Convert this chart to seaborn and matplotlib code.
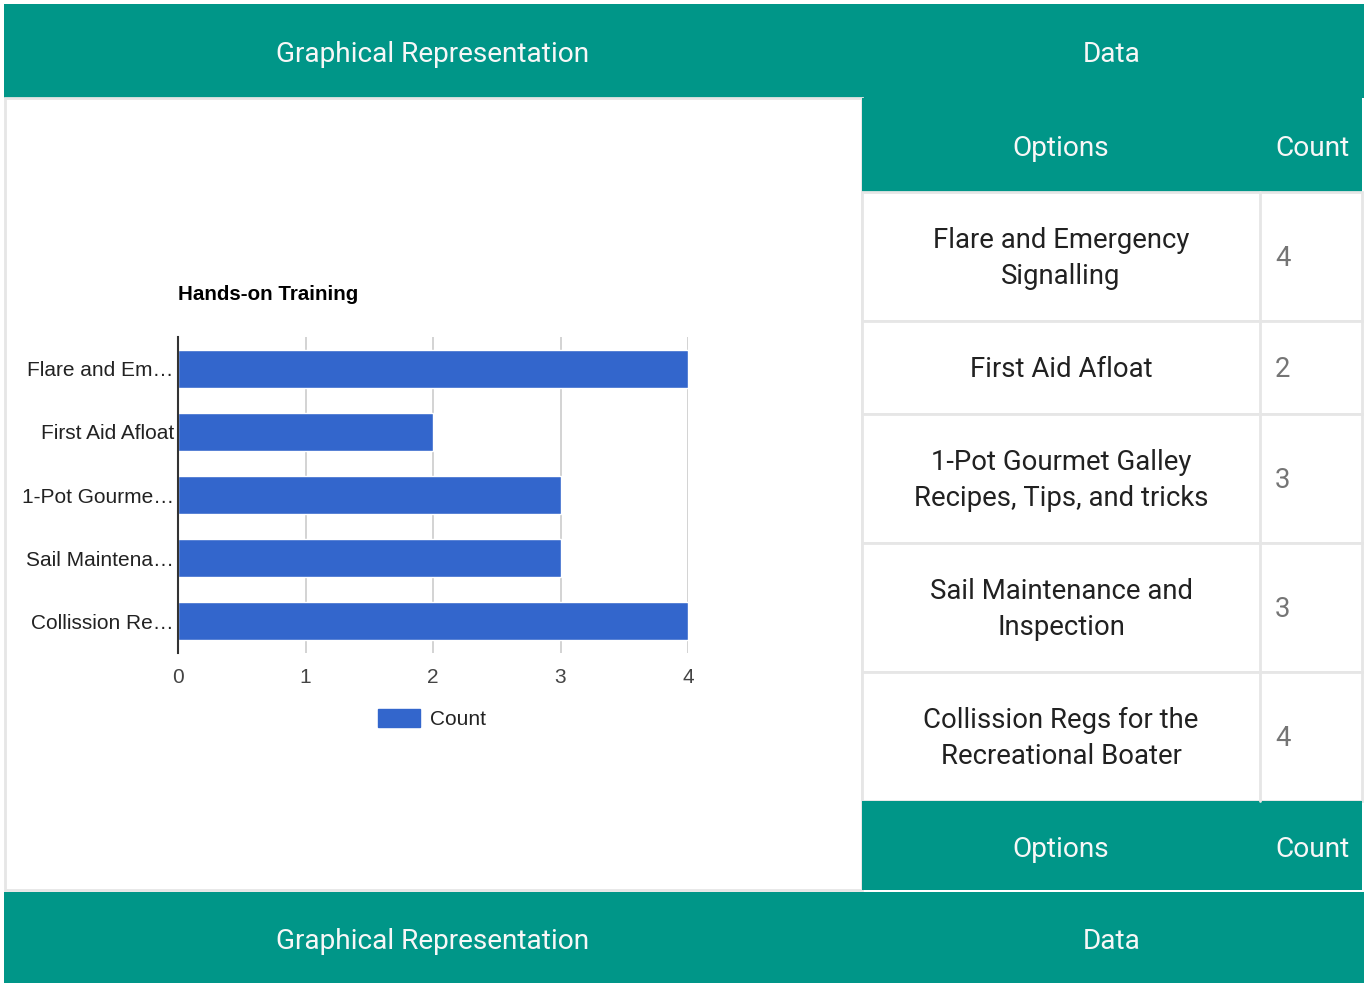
import matplotlib
matplotlib.use("Agg")
import matplotlib.pyplot as plt
import pandas as pd
import seaborn as sns
from matplotlib.patches import Rectangle, Patch

# data
chart_title = "Hands-on Training"
options = ["Flare and Emergency Signalling", "First Aid Afloat",
           "1-Pot Gourmet Galley Recipes, Tips, and tricks",
           "Sail Maintenance and Inspection",
           "Collission Regs for the Recreational Boater"]
counts = [4, 2, 3, 3, 4]
tick_labels = ["Flare and Em…", "First Aid Afloat", "1-Pot Gourme…",
               "Sail Maintena…", "Collission Re…"]
table_lines = [["Flare and Emergency", "Signalling"], ["First Aid Afloat"],
               ["1-Pot Gourmet Galley", "Recipes, Tips, and tricks"],
               ["Sail Maintenance and", "Inspection"],
               ["Collission Regs for the", "Recreational Boater"]]
x_ticks = [0, 1, 2, 3, 4]
panel_titles = ["Graphical Representation", "Data"]
col_titles = ["Options", "Count"]

TEAL = "#009688"
BLUE = "#3366cc"
LINE = "#e6e6e6"
W, H = 1369, 983

sns.set_theme(style="white")
plt.rcParams['font.family'] = ['Roboto', 'DejaVu Sans']

fig = plt.figure(figsize=(W / 100, H / 100), dpi=100)

# page background drawn in pixel coordinates
bg = fig.add_axes([0, 0, 1, 1])
bg.set_xlim(0, W)
bg.set_ylim(H, 0)
bg.axis("off")

head_kw = dict(color="#f7f7f7", fontsize=20.2, va="center", family=["Roboto", "DejaVu Sans"])
dy = 4  # text sits a little low in its cell

# top and bottom bars
for y0, y1 in [(4, 98), (892, 983)]:
    bg.add_patch(Rectangle((4, y0), 1360, y1 - y0, color=TEAL, lw=0))
    bg.text(433, (y0 + y1) / 2 + dy, panel_titles[0], ha="center", **head_kw)
    bg.text(1112, (y0 + y1) / 2 + dy, panel_titles[1], ha="center", **head_kw)

# left panel frame
bg.add_patch(Rectangle((4.5, 98), 857.5, 792, facecolor="white", edgecolor=LINE, lw=2))

# table
tx0, tsplit, tx1 = 862, 1260, 1362
y = 98
bg.add_patch(Rectangle((tx0, y), tx1 - tx0, 94, color=TEAL, lw=0))
bg.text((tx0 + tsplit) / 2, y + 47 + dy, col_titles[0], ha="center", **head_kw)
bg.text(1275, y + 47 + dy, col_titles[1], ha="left", **head_kw)
y += 94
for lines, c in zip(table_lines, counts):
    h = 57 + 36 * len(lines)
    bg.add_patch(Rectangle((tx0, y), tx1 - tx0, h, facecolor="white", edgecolor=LINE, lw=2))
    bg.plot([tsplit, tsplit], [y, y + h], color=LINE, lw=2)
    bg.text((tx0 + tsplit) / 2, y + h / 2 + 2, "\n".join(lines), ha="center", va="center",
            fontsize=19.8, color="#212121", linespacing=1.4, family=["Roboto", "DejaVu Sans"])
    bg.text(1275, y + h / 2 + 2, str(c), ha="left", va="center", fontsize=19.8,
            color="#757575", family=["Roboto", "DejaVu Sans"])
    y += h
bg.add_patch(Rectangle((tx0, y), tx1 - tx0, 890 - y, color=TEAL, lw=0))
bg.text((tx0 + tsplit) / 2, (y + 890) / 2 + dy, col_titles[0], ha="center", **head_kw)
bg.text(1275, (y + 890) / 2 + dy, col_titles[1], ha="left", **head_kw)

# bar chart
ax = fig.add_axes([178 / W, 1 - 653 / H, 510 / W, 316 / H])
df = pd.DataFrame({"option": tick_labels, "Count": counts})
sns.barplot(data=df, y="option", x="Count", orient="h", color=BLUE, saturation=1,
            width=0.6, ax=ax, zorder=3)
ax.set_xlim(0, 4)
ax.set_ylim(4.5, -0.5)
ax.set_xticks(x_ticks)
ax.set_xlabel("")
ax.set_ylabel("")
ax.set_facecolor("none")
for s in ["top", "right", "bottom"]:
    ax.spines[s].set_visible(False)
ax.spines["left"].set_color("#333333")
ax.spines["left"].set_linewidth(1.5)
ax.spines["left"].set_zorder(5)
ax.grid(axis="x", color="#cccccc", lw=1.2, zorder=0)
ax.tick_params(axis="y", length=0, pad=3, labelsize=15, labelcolor="#222222")
ax.tick_params(axis="x", length=0, pad=11, labelsize=15, labelcolor="#444444")
for lab in ax.get_xticklabels() + ax.get_yticklabels():
    lab.set_family(["Liberation Sans", "DejaVu Sans"])

fig.text(178 / W, 1 - 294 / H, chart_title, ha="left", va="center", fontsize=14.8,
         fontweight="bold", color="#000000", family=["Liberation Sans", "DejaVu Sans"])

fig.legend(handles=[Patch(color=BLUE, label="Count")], loc="center",
           bbox_to_anchor=(432 / W, 1 - 719 / H), frameon=False,
           prop={"family": ["Liberation Sans", "DejaVu Sans"], "size": 15},
           handlelength=2.0, handleheight=1.0, handletextpad=0.45, labelcolor="#222222")

fig.savefig("out.png", dpi=100)
